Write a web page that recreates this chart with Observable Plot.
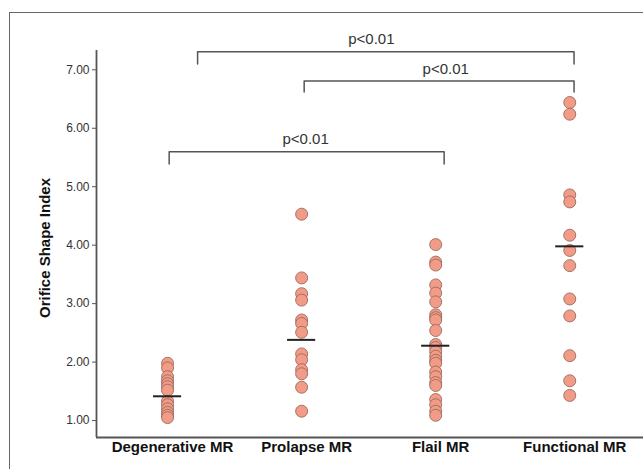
<!DOCTYPE html>
<html><head><meta charset="utf-8">
<script src="https://cdn.jsdelivr.net/npm/d3@7"></script>
<script src="https://cdn.jsdelivr.net/npm/@observablehq/plot@0.6"></script>
<style>
html,body{margin:0;padding:0;background:#fff;}
#wrap{position:relative;width:643px;height:469px;overflow:hidden;}
#frame{position:absolute;left:9px;top:12px;width:700px;height:500px;border-left:1.5px solid #666;border-top:1.5px solid #666;}
#chart{position:absolute;left:0;top:0;}
</style></head><body>
<div id="wrap"><div id="frame"></div><div id="chart"></div></div>
<script>
const categories = ["Degenerative MR", "Prolapse MR", "Flail MR", "Functional MR"];
const degenerative = [1.98, 1.90, 1.75, 1.68, 1.63, 1.58, 1.52, 1.33, 1.27, 1.20, 1.14, 1.09, 1.05];
const prolapse = [4.53, 3.44, 3.17, 3.06, 2.72, 2.66, 2.51, 2.14, 2.04, 1.87, 1.80, 1.57, 1.16];
const flail = [4.01, 3.71, 3.66, 3.32, 3.18, 3.03, 2.81, 2.76, 2.72, 2.54, 2.30, 2.25, 2.18, 2.10, 2.03, 1.98, 1.83, 1.75, 1.65, 1.60, 1.36, 1.27, 1.16, 1.09];
const functional = [6.44, 6.24, 4.86, 4.74, 4.17, 3.91, 3.65, 3.08, 2.79, 2.11, 1.68, 1.43];
const groupMeans = [1.415, 2.38, 2.28, 3.98];
const yTicks = [1, 2, 3, 4, 5, 6, 7];
// significance brackets (x in group-index units, y in data units)
const bracketFrom = [0.224, 1.019, 0.012];
const bracketTo = [3.032, 3.032, 2.063];
const bracketLevel = [7.31, 6.81, 5.60];
const bracketDrop = [7.10, 6.62, 5.39];
const bracketLabelX = [1.52, 2.075, 1.03];
const bracketLabels = ["p<0.01", "p<0.01", "p<0.01"];

const groups = [degenerative, prolapse, flail, functional];
const points = groups.flatMap((vals, i) => vals.map(v => ({i, v})));
const bracketPaths = bracketFrom.flatMap((f, k) => [
  {id: k, x: f, y: bracketDrop[k]},
  {id: k, x: f, y: bracketLevel[k]},
  {id: k, x: bracketTo[k], y: bracketLevel[k]},
  {id: k, x: bracketTo[k], y: bracketDrop[k]}
]);
const bracketText = bracketLabels.map((t, k) => ({t, x: bracketLabelX[k], y: bracketLevel[k]}));

const xDomain = [-0.53, 3.55];
const yDomain = [0.71, 7.33];

const chart = Plot.plot({
  width: 643, height: 469,
  marginTop: 50, marginBottom: 32, marginLeft: 96, marginRight: 0,
  style: {fontFamily: "'Liberation Sans', Arial, sans-serif", fontSize: "12px", background: "transparent", overflow: "visible"},
  x: {domain: xDomain, axis: null},
  y: {domain: yDomain},
  marks: [
    Plot.axisY({ticks: yTicks, tickFormat: d3.format(".2f"), tickSize: 4, tickPadding: 3, label: null, fontSize: 12, color: "#333", stroke: "#555"}),
    Plot.ruleX([xDomain[0]], {stroke: "#555", strokeWidth: 1.8}),
    Plot.ruleY([yDomain[0]], {stroke: "#555", strokeWidth: 1.8}),
    Plot.line(bracketPaths, {x: "x", y: "y", z: "id", stroke: "#555", strokeWidth: 1.5}),
    Plot.text(bracketText, {x: "x", y: "y", text: "t", dy: -12, fontSize: 15, fill: "#333"}),
    Plot.dot(points, {x: "i", y: "v", r: 6, fill: "#F29C87", stroke: "#9b6a5f", strokeWidth: 0.9}),
    Plot.ruleY(groupMeans, {y: d => d, x1: (d, i) => i - 0.105, x2: (d, i) => i + 0.105, stroke: "#222", strokeWidth: 2}),
    Plot.text(categories, {x: (d, i) => i, frameAnchor: "bottom", dy: 14, dx: 5, text: d => d, fontWeight: "bold", fontSize: 15, fill: "#111"}),
    Plot.text(["Orifice Shape Index"], {frameAnchor: "left", dx: -51, dy: 4, rotate: -90, textAnchor: "middle", text: d => d, fontWeight: "bold", fontSize: 15, fill: "#111"})
  ]
});
document.getElementById("chart").appendChild(chart);
</script>
</body></html>
